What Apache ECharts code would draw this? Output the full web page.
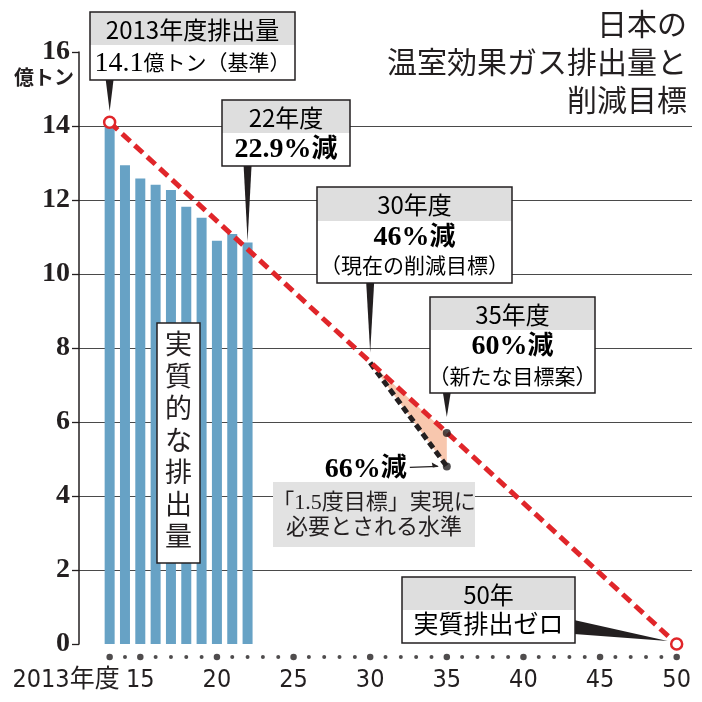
<!DOCTYPE html>
<html><head><meta charset="utf-8">
<script src="https://cdn.jsdelivr.net/npm/echarts@6/dist/echarts.min.js"></script>
<style>html,body{margin:0;padding:0;background:#fff}#c{width:702px;height:702px}</style>
</head><body><div id="c"></div>
<script>
// ---- data ----
const years = [2013, 2014, 2015, 2016, 2017, 2018, 2019, 2020, 2021, 2022];
const emissions = [14.1, 12.94, 12.58, 12.41, 12.27, 11.82, 11.52, 10.90, 11.08, 10.85];
const pathYears = [2013, 2050];
const pathValues = [14.1, 0];
const targetYears = [2030, 2035];
const targetValues = [7.6, 5.7];      // 46%減, 60%減
const needValue2035 = 4.8;            // 66%減
const axisYears = [2013, 2014, 2015, 2016, 2017, 2018, 2019, 2020, 2021, 2022, 2023, 2024, 2025,
  2026, 2027, 2028, 2029, 2030, 2031, 2032, 2033, 2034, 2035, 2036, 2037, 2038, 2039, 2040,
  2041, 2042, 2043, 2044, 2045, 2046, 2047, 2048, 2049, 2050];
const majorYears = [2013, 2015, 2020, 2025, 2030, 2035, 2040, 2045, 2050];
const majorLabels = ['2013年度', '15', '20', '25', '30', '35', '40', '45', '50'];
const yTicks = [0, 2, 4, 6, 8, 10, 12, 14, 16];

// ---- styles ----
const SANS = "'Noto Sans CJK JP', sans-serif";
const SERIF = "'Liberation Serif', 'Noto Sans CJK JP', serif";
const NARROW = "'Liberation Sans Narrow', 'DejaVu Sans Condensed', 'Noto Sans CJK JP', sans-serif";
const INK = '#231f20', RED = '#e0262a', GRAY = '#dedede', BLUE = '#67a2c5', PEACH = '#f8c7ae';

const RICH = {
  s: { fontFamily: SANS, fontSize: 24, color: INK },
  n: { fontFamily: SERIF, fontSize: 28, color: INK },
  nb: { fontFamily: SERIF, fontSize: 28, fontWeight: 'bold', color: INK },
  c: { fontFamily: SERIF, fontSize: 21, color: INK },
  c2: { fontFamily: SERIF, fontSize: 25, color: INK },
  cb: { fontFamily: SERIF, fontSize: 26, fontWeight: 'bold', color: INK },
  rb: { fontFamily: SERIF, fontSize: 28, fontWeight: 'bold', color: RED },
  rc: { fontFamily: SERIF, fontSize: 26, fontWeight: 'bold', color: RED }
};

// callout layout (pixels) with anchors taken from the data arrays
const callouts = [
  { anchor: [years[0], emissions[0]], tip: [0, -11], side: 'bottom',
    box: { x: 90, y: 12, w: 205, h: 68, split: 33 },
    lines: [{ t: '{s|2013年度排出量}', y: 30 }, { t: '{n|14.1}{c|億トン（基準）}', y: 64 }] },
  { anchor: [years[9], emissions[9]], tip: [0, -1], side: 'bottom',
    box: { x: 222, y: 100, w: 128, h: 66, split: 33 },
    lines: [{ t: '{s|22年度}', y: 118 }, { t: '{nb|22.9%}{cb|減}', y: 150 }] },
  { anchor: [targetYears[0], targetValues[0]], tip: [0, -10], side: 'bottom',
    box: { x: 317, y: 187, w: 195, h: 96, split: 34 },
    lines: [{ t: '{s|30年度}', y: 205 }, { t: '{nb|46%}{cb|減}', y: 238 }, { t: '{c|（現在の削減目標）}', y: 267 }] },
  { anchor: [targetYears[1], targetValues[1]], tip: [0, -16], side: 'bottom',
    box: { x: 430, y: 297, w: 165, h: 96, split: 33 },
    lines: [{ t: '{s|35年度}', y: 315 }, { t: '{rb|60%}{rc|減}', y: 347 }, { t: '{c|（新たな目標案）}', y: 378 }] },
  { anchor: [pathYears[1], pathValues[1]], tip: [-9, -3], side: 'right', baseY: [620, 634],
    box: { x: 402, y: 577, w: 173, h: 66, split: 33 },
    lines: [{ t: '{s|50年}', y: 595 }, { t: '{c2|実質排出ゼロ}', y: 626 }] }
];

function calloutItem(params, api) {
  const c = callouts[params.dataIndex];
  const p = api.coord([api.value(0), api.value(1)]);
  const b = c.box;
  const tip = [p[0] + c.tip[0], p[1] + c.tip[1]];
  let pts;
  if (c.side === 'bottom') pts = [[tip[0] - 4, b.y + b.h - 1], [tip[0] + 4, b.y + b.h - 1], tip];
  else pts = [[b.x + b.w - 1, c.baseY[0]], [b.x + b.w - 1, c.baseY[1]], tip];
  const children = [
    { type: 'polygon', shape: { points: pts }, style: { fill: INK } },
    { type: 'rect', shape: { x: b.x, y: b.y, width: b.w, height: b.h }, style: { fill: '#fff' } },
    { type: 'rect', shape: { x: b.x, y: b.y, width: b.w, height: b.split }, style: { fill: GRAY } },
    { type: 'rect', shape: { x: b.x, y: b.y, width: b.w, height: b.h }, style: { fill: 'none', stroke: INK, lineWidth: 1.5 } }
  ];
  c.lines.forEach(l => children.push({
    type: 'text', style: { text: l.t, x: b.x + b.w / 2, y: l.y, align: 'center', verticalAlign: 'middle', rich: RICH }
  }));
  return { type: 'group', children };
}

function needLabelItem(params, api) {
  const p = api.coord([api.value(0), api.value(1)]);
  const y = p[1];
  return { type: 'group', children: [
    { type: 'line', shape: { x1: p[0] - 37, y1: y + 1, x2: p[0] - 9, y2: y }, style: { stroke: INK, lineWidth: 1.3 } },
    { type: 'polygon', shape: { points: [[p[0] - 8, y], [p[0] - 15, y - 4], [p[0] - 14, y + 1]] }, style: { fill: INK } },
    { type: 'text', style: { text: '{nb|66%}{cb|減}', x: p[0] - 40, y: y + 3, align: 'right', verticalAlign: 'middle', rich: RICH } }
  ] };
}

// x-axis year labels drawn on the axis-dot row (anchored at each year's dot)
function yearLabelItem(params, api) {
  const p = api.coord([api.value(0), api.value(1)]);
  const k = params.dataIndex;
  const first = k === 0;
  return { type: 'text', style: {
    text: majorLabels[k], x: first ? p[0] + 10 : p[0], y: p[1] + 11,
    align: first ? 'right' : 'center', verticalAlign: 'top',
    fontFamily: NARROW, fontSize: 25, fill: INK } };
}

const chart = echarts.init(document.getElementById('c'), null, { renderer: 'canvas' });
chart.setOption({
  animation: false,
  backgroundColor: '#fff',
  grid: [
    { left: 79, right: 10, top: 52, bottom: 58 },
    { left: 79, right: 10, top: 651, height: 12 }
  ],
  xAxis: [
    { type: 'value', gridIndex: 0, min: 2011, max: 2051, show: false },
    { type: 'value', gridIndex: 1, min: 2011, max: 2051, show: false }
  ],
  yAxis: [
    { type: 'value', gridIndex: 0, min: 0, max: 16, interval: 2,
      name: '億トン', nameLocation: 'end', nameGap: -28,
      nameTextStyle: { fontFamily: SERIF, fontSize: 20, fontWeight: 'bold', color: INK, align: 'right', verticalAlign: 'middle', padding: [0, 5, 0, 0] },
      axisLine: { show: true, lineStyle: { color: INK, width: 1.5 } },
      axisTick: { show: true, length: 7, lineStyle: { color: INK, width: 1.3 } },
      axisLabel: { fontFamily: SERIF, fontSize: 28, fontWeight: 'bold', color: INK, margin: 9,
        customValues: yTicks },
      splitLine: { show: true, showMinLine: false, showMaxLine: false, lineStyle: { color: '#4a4a4a', width: 1.2 } } },
    { type: 'value', gridIndex: 1, min: 0, max: 1, show: false }
  ],
  graphic: [
    { type: 'text', z: 12, style: { text: '日本の\n温室効果ガス排出量と\n削減目標', x: 687, y: 5, align: 'right', verticalAlign: 'top',
      fontFamily: SANS, fontSize: 30, lineHeight: 38, fill: INK } },
    { type: 'rect', z: 10, shape: { x: 157, y: 323, width: 43, height: 240 },
      style: { fill: '#fff', stroke: INK, lineWidth: 1.5 } },
    { type: 'text', z: 11, style: { text: '実\n質\n的\nな\n排\n出\n量', x: 178.5, y: 443, align: 'center', verticalAlign: 'middle',
      fontFamily: SERIF, fontSize: 27, lineHeight: 32, fill: INK } },
    { type: 'rect', z: 10, shape: { x: 273, y: 482, width: 202, height: 65 }, style: { fill: '#e2e2e2' } },
    { type: 'text', z: 11, style: { text: '「1.5度目標」実現に\n必要とされる水準', x: 374, y: 516, align: 'center', verticalAlign: 'middle',
      fontFamily: SERIF, fontSize: 22, lineHeight: 25, fill: INK } }
  ],
  series: [
    { type: 'bar', xAxisIndex: 0, yAxisIndex: 0, barWidth: 10, z: 2,
      itemStyle: { color: BLUE }, data: years.map((y, i) => [y, emissions[i]]) },
    { type: 'custom', xAxisIndex: 0, yAxisIndex: 0, z: 3, clip: false, data: [[targetYears[1], needValue2035]],
      renderItem: (params, api) => {
        const pts = [[targetYears[0], targetValues[0]], [targetYears[1], targetValues[1]], [targetYears[1], needValue2035]].map(d => api.coord(d));
        return { type: 'polygon', shape: { points: pts }, style: { fill: PEACH } };
      } },
    { type: 'line', xAxisIndex: 0, yAxisIndex: 0, z: 4, symbol: 'none',
      lineStyle: { color: INK, width: 5, type: [7, 4] },
      data: [[targetYears[0], targetValues[0]], [targetYears[1], needValue2035]] },
    { type: 'line', xAxisIndex: 0, yAxisIndex: 0, z: 5, symbol: 'circle', symbolSize: 11, showAllSymbol: true,
      itemStyle: { color: '#fff', borderColor: RED, borderWidth: 2.5 },
      lineStyle: { color: RED, width: 5, type: [11, 6] },
      data: pathYears.map((y, i) => [y, pathValues[i]]) },
    { type: 'scatter', xAxisIndex: 0, yAxisIndex: 0, z: 6, symbolSize: 8, itemStyle: { color: INK },
      data: [[targetYears[1], targetValues[1]], [targetYears[1], needValue2035]] },
    { type: 'custom', xAxisIndex: 0, yAxisIndex: 0, z: 7, clip: false,
      data: [[targetYears[1], needValue2035]], renderItem: needLabelItem },
    { type: 'custom', xAxisIndex: 0, yAxisIndex: 0, z: 8, clip: false,
      data: callouts.map(c => c.anchor), renderItem: calloutItem },
    { type: 'scatter', xAxisIndex: 1, yAxisIndex: 1, z: 3, itemStyle: { color: INK },
      symbolSize: v => majorYears.includes(v[0]) ? 6.5 : 4,
      data: axisYears.map(y => [y, 0.5]) },
    { type: 'custom', xAxisIndex: 1, yAxisIndex: 1, z: 3, clip: false,
      data: majorYears.map(y => [y, 0.5]), renderItem: yearLabelItem }
  ]
});
</script></body></html>
